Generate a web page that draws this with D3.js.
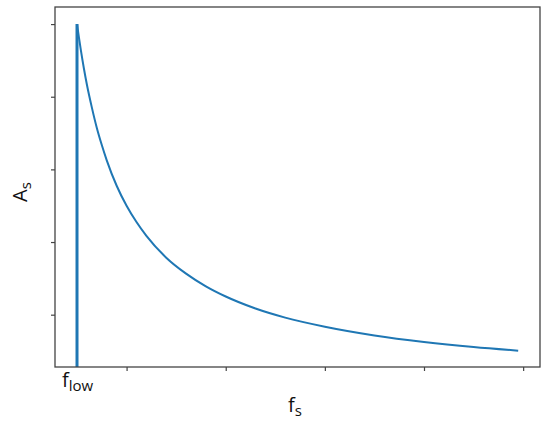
<!DOCTYPE html>
<html>
<head>
<meta charset="utf-8">
<script src="https://cdn.jsdelivr.net/npm/d3@7"></script>
<style>
  body { margin: 0; background: #fff; }
  text { font-family: "Open Sans", "DejaVu Sans", sans-serif; fill: #111; }
</style>
</head>
<body>
<div id="chart"></div>
<script>
// amplitude vs frequency, falls off from f_low
let freq = [0.5, 0.52, 0.54, 0.57, 0.6, 0.65, 0.7, 0.75, 0.8, 0.9, 1.0, 1.1, 1.2, 1.4, 1.6, 1.8, 2.0, 2.3, 2.6, 3.0, 3.5, 4.0, 4.5, 4.95]
let amp = [1.0, 0.962, 0.926, 0.877, 0.833, 0.77, 0.714, 0.667, 0.625, 0.555, 0.5, 0.455, 0.417, 0.357, 0.313, 0.278, 0.25, 0.217, 0.192, 0.167, 0.143, 0.125, 0.111, 0.101]
let fLow = 0.5
let xTicks = [1, 2, 3, 4, 5]
let yTicks = [0.2, 0.4, 0.6, 0.8, 1.0]

let margin = {top: 7, bottom: 54, left: 55, right: 10}
let width = 550 - margin.left - margin.right
let height = 421 - margin.top - margin.bottom

let svg = d3.select('#chart')
    .append('svg')
    .attr('width', 550)
    .attr('height', 421)

let g = svg.append('g')
    .attr('transform', `translate(${margin.left},${margin.top})`)

let x = d3.scaleLinear().domain([0.278, 5.17]).range([0, width])
let y = d3.scaleLinear().domain([0.056, 1.047]).range([height, 0])

let points = freq.map((f, i) => ({f: f, a: amp[i]}))

let line = d3.line()
    .x(d => x(d.f))
    .y(d => y(d.a))
    .curve(d3.curveMonotoneX)

// vertical line at f_low
g.append('line')
    .attr('x1', x(fLow)).attr('x2', x(fLow))
    .attr('y1', y(amp[0])).attr('y2', height)
    .attr('stroke', '#1f77b4')
    .attr('stroke-width', 3)

g.append('path')
    .datum(points)
    .attr('d', line)
    .attr('fill', 'none')
    .attr('stroke', '#1f77b4')
    .attr('stroke-width', 2)

// axes, no tick labels
let xAxis = g.append('g')
    .attr('transform', `translate(0,${height})`)
    .call(d3.axisBottom(x).tickValues(xTicks).tickSize(4).tickFormat(''))
let yAxis = g.append('g')
    .call(d3.axisLeft(y).tickValues(yTicks).tickSize(4).tickFormat(''))
xAxis.select('.domain').remove()
yAxis.select('.domain').remove()
g.selectAll('.tick line').attr('stroke', '#444').attr('stroke-width', 1.2)

g.append('rect')
    .attr('width', width).attr('height', height)
    .attr('fill', 'none')
    .attr('stroke', '#444')
    .attr('stroke-width', 1.3)

// labels
let flow = svg.append('text')
    .attr('x', margin.left + x(fLow) - 15)
    .attr('y', 387)
    .attr('font-size', 20)
flow.append('tspan').text('f')
flow.append('tspan').attr('dy', 4).attr('font-size', 15).text('low')

let fs = svg.append('text')
    .attr('x', 288)
    .attr('y', 412)
    .attr('font-size', 20)
fs.append('tspan').text('f')
fs.append('tspan').attr('dy', 4).attr('font-size', 15).text('s')

let as = svg.append('text')
    .attr('transform', 'translate(27,202) rotate(-90)')
    .attr('font-size', 20)
as.append('tspan').text('A')
as.append('tspan').attr('dy', 4).attr('font-size', 15).text('s')
</script>
</body>
</html>
